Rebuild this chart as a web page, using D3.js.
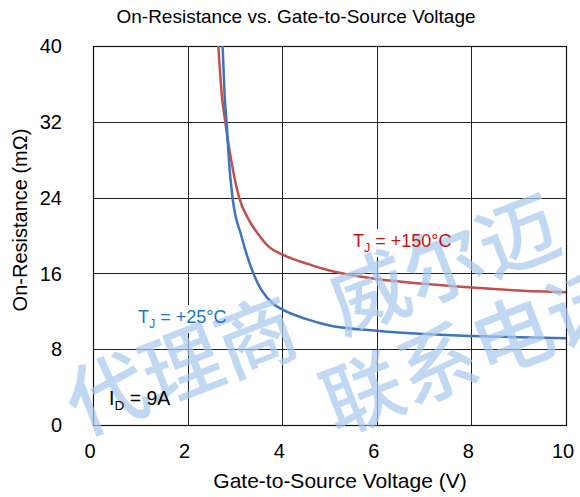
<!DOCTYPE html>
<html><head><meta charset="utf-8">
<script src="https://cdn.jsdelivr.net/npm/d3@7/dist/d3.min.js"></script>
<style>body{margin:0;background:#fff}svg{display:block}</style>
</head><body><svg id="c" width="580" height="497"></svg>
<script>
const xTicks = [0, 2, 4, 6, 8, 10];
const yTicks = [0, 8, 16, 24, 32, 40];
const vgs25 = [2.74, 2.78, 2.82, 2.89, 2.95, 3.14, 3.39, 3.56, 3.81, 4.0, 4.5, 5, 6, 7, 8, 9, 10];
const rds25 = [40, 35, 32.2, 26.9, 24, 19.9, 16, 14.25, 12.8, 12.2, 11.2, 10.5, 9.95, 9.6, 9.4, 9.25, 9.15];
const vgs150 = [2.65, 2.72, 2.79, 2.96, 3.09, 3.30, 3.53, 3.72, 4.0, 4.6, 5.0, 6, 7, 8, 9, 10];
const rds150 = [40, 35, 32.2, 26.9, 24, 21.6, 19.9, 18.8, 18.0, 16.9, 16.3, 15.4, 14.9, 14.5, 14.2, 14.0];
const title = "On-Resistance vs. Gate-to-Source Voltage";
const xTitle = "Gate-to-Source Voltage (V)";
const yTitle = "On-Resistance (mΩ)";
const watermarkParts = ["代理商", "威尔迈", "联系电话"];

const svg = d3.select("#c");
const FONT = "'Liberation Sans', Arial, sans-serif";
const L = 93, R = 566, T = 46, B = 425;
const x = d3.scaleLinear().domain([0, 10]).range([L, R]);
const y = d3.scaleLinear().domain([0, 40]).range([B, T]);

svg.append("text").attr("x", 296).attr("y", 23).attr("text-anchor", "middle")
  .attr("font-family", FONT).attr("font-size", 19).attr("fill", "#000").text(title);

const g = svg.append("g");
g.selectAll("line.v").data(xTicks).join("line")
  .attr("x1", d => Math.round(x(d)) + 0.5).attr("x2", d => Math.round(x(d)) + 0.5)
  .attr("y1", T).attr("y2", B).attr("stroke", "#222").attr("stroke-width", 1);
g.selectAll("line.h").data(yTicks).join("line")
  .attr("y1", d => Math.round(y(d)) + 0.5).attr("y2", d => Math.round(y(d)) + 0.5)
  .attr("x1", L).attr("x2", R).attr("stroke", "#222").attr("stroke-width", 1);
g.append("rect").attr("x", L + 0.5).attr("y", T + 0.5).attr("width", R - L).attr("height", B - T)
  .attr("fill", "none").attr("stroke", "#111").attr("stroke-width", 1.2);

svg.selectAll("text.yt").data(yTicks).join("text")
  .attr("x", 62).attr("y", d => y(d)).attr("dy", "0.36em").attr("text-anchor", "end")
  .attr("font-family", FONT).attr("font-size", 20).attr("fill", "#000").text(d => d);
svg.selectAll("text.xt").data(xTicks).join("text")
  .attr("x", d => x(d) - 3).attr("y", 458).attr("text-anchor", "middle")
  .attr("font-family", FONT).attr("font-size", 20).attr("fill", "#000").text(d => d);

svg.append("text").attr("x", 340).attr("y", 488).attr("text-anchor", "middle")
  .attr("font-family", FONT).attr("font-size", 21).attr("fill", "#000").text(xTitle);
svg.append("text").attr("transform", "translate(27,220) rotate(-90)").attr("text-anchor", "middle")
  .attr("font-family", FONT).attr("font-size", 20).attr("fill", "#000").text(yTitle);

svg.append("clipPath").attr("id", "clip").append("rect")
  .attr("x", L).attr("y", T).attr("width", R - L).attr("height", B - T);
const line = d3.line().x(d => x(d[0])).y(d => y(d[1])).curve(d3.curveMonotoneX);
const s25 = vgs25.map((v, i) => [v, rds25[i]]);
const s150 = vgs150.map((v, i) => [v, rds150[i]]);

svg.append("path").datum(s150).attr("d", line).attr("clip-path", "url(#clip)")
  .attr("fill", "none").attr("stroke", "#c0504d").attr("stroke-width", 2.5);
svg.append("path").datum(s25).attr("d", line).attr("clip-path", "url(#clip)")
  .attr("fill", "none").attr("stroke", "#3c74bf").attr("stroke-width", 2.5);

const labelLayer = svg.append("g");
const wmLayer = svg.append("g");
const textLayer = svg.append("g");

function label(xp, yp, main, sub, rest, color, size, bg) {
  const t = textLayer.append("text").attr("x", xp).attr("y", yp)
    .attr("font-family", FONT).attr("font-size", size).attr("fill", color);
  t.append("tspan").text(main);
  t.append("tspan").attr("font-size", size * 0.7).attr("dy", size * 0.28).text(sub);
  t.append("tspan").attr("dy", -size * 0.28).text(rest);
  if (bg) {
    const bb = t.node().getBBox();
    labelLayer.append("rect")
      .attr("x", bb.x - 2).attr("y", bb.y - 2).attr("width", bb.width + 4).attr("height", bb.height + 4)
      .attr("fill", "#fff");
  }
}
label(353, 247, "T", "J", " = +150°C", "#cc1111", 18, true);
label(138, 323, "T", "J", " = +25°C", "#1877c9", 18, true);
label(109, 405, "I", "D", " = 9A", "#000", 19.5, false);

// watermark (rotated text, three runs)
const wm = wmLayer.attr("font-family", "'Noto Sans CJK SC', sans-serif")
  .attr("font-weight", 500).attr("font-size", 80).attr("fill", "#a9c9ee").attr("fill-opacity", 0.72);
const wmPos = [[80, 436], [342, 335], [336, 435]];
watermarkParts.forEach((s, i) => {
  wm.append("text").attr("transform", `translate(${wmPos[i][0]},${wmPos[i][1]}) rotate(-21)`).text(s);
});
</script></body></html>
